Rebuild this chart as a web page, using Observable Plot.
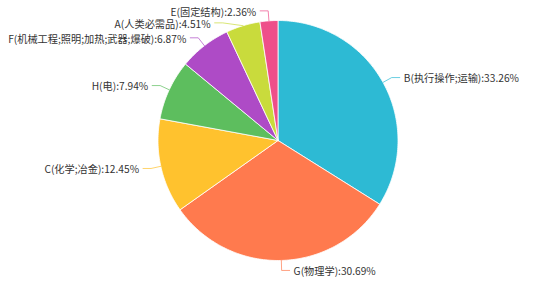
<!DOCTYPE html>
<html><head><meta charset="utf-8">
<script src="https://cdn.jsdelivr.net/npm/d3@7"></script>
<script src="https://cdn.jsdelivr.net/npm/@observablehq/plot@0.6"></script>
<style>body{margin:0;background:#fff}#chart svg{display:block}</style>
</head><body><div id="chart"></div>
<script>
const categories = ["B(执行操作;运输)", "G(物理学)", "C(化学;冶金)", "H(电)", "F(机械工程;照明;加热;武器;爆破)", "A(人类必需品)", "E(固定结构)"];
const percents = [33.26, 30.69, 12.45, 7.94, 6.87, 4.51, 2.36];
const colors = ["#2DBAD4", "#FF7A4E", "#FFC22E", "#5DBE5E", "#AE4BC6", "#C9DB3C", "#EE4F8A"];

const W = 534, H = 285, cx = 277.5, cy = 140, r = 120, len1 = 10, len2 = 8, gap = 4, lineH = 12;
const total = d3.sum(percents);
let acc = 0;
const slices = categories.map((c, i) => {
  const a0 = acc / total * 2 * Math.PI; acc += percents[i];
  const a1 = acc / total * 2 * Math.PI;
  return {c, i, a0, a1, mid: (a0 + a1) / 2, label: `${c}:${percents[i].toFixed(2)}%`, color: colors[i]};
});
const wedges = slices.map(s => {
  const pts = [{x: cx, y: cy}];
  const n = Math.max(2, Math.ceil((s.a1 - s.a0) / (Math.PI / 180)));
  for (let j = 0; j <= n; j++) {
    const a = s.a0 + (s.a1 - s.a0) * j / n;
    pts.push({x: cx + r * Math.sin(a), y: cy - r * Math.cos(a)});
  }
  pts.push({x: cx, y: cy});
  return {s, pts};
});
const R = r + len1;
const labs = slices.map(s => {
  const side = Math.sin(s.mid) >= 0 ? 1 : -1;
  return {...s, side, ex: cx + r * Math.sin(s.mid), ey: cy - r * Math.cos(s.mid), y1: cy - R * Math.cos(s.mid)};
});
for (const side of [-1, 1]) {
  const g = labs.filter(l => l.side === side).sort((a, b) => a.y1 - b.y1);
  for (let k = 1; k < g.length; k++) if (g[k].y1 < g[k - 1].y1 + lineH) g[k].y1 = g[k - 1].y1 + lineH;
}
labs.forEach(l => {
  const dy = l.y1 - cy;
  l.x1 = cx + l.side * Math.sqrt(Math.max(0, R * R - dy * dy));
  l.x2 = l.x1 + l.side * len2;
  l.tx = l.x2 + l.side * gap;
});
const leaders = labs.flatMap(l => [
  {k: l.c, x: l.ex, y: l.ey},
  {k: l.c, x: l.x1, y: l.y1},
  {k: l.c, x: l.x2, y: l.y1}
]);
const font = "'Noto Sans CJK SC', 'Noto Sans', sans-serif";
const fs = 10.2;
const chart = Plot.plot({
  width: W, height: H, margin: 0,
  style: {fontFamily: font, background: "#fff"},
  x: {domain: [0, W], range: [0, W], axis: null},
  y: {domain: [0, H], range: [0, H], axis: null},
  marks: [
    ...wedges.map(w => Plot.line(w.pts, {x: "x", y: "y", fill: w.s.color, stroke: "#fff", strokeWidth: 0.8, strokeLinejoin: "round"})),
    ...labs.map(l => Plot.line(leaders.filter(d => d.k === l.c), {x: "x", y: "y", stroke: l.color, strokeWidth: 1, strokeOpacity: 0.7})),
    Plot.text(labs.filter(l => l.side < 0), {x: "tx", y: "y1", dy: 1.5, text: "label", textAnchor: "end", fill: "#333", fontSize: fs, fontFamily: font}),
    Plot.text(labs.filter(l => l.side > 0), {x: "tx", y: "y1", dy: 1.5, text: "label", textAnchor: "start", fill: "#333", fontSize: fs, fontFamily: font})
  ]
});
document.getElementById("chart").appendChild(chart);
</script></body></html>
